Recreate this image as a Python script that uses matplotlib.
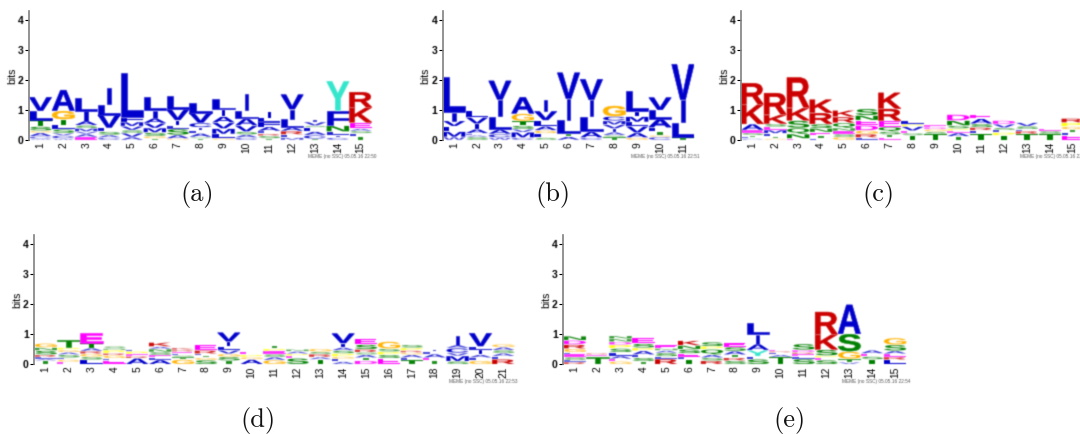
import numpy as np
import matplotlib
matplotlib.use("Agg")
import matplotlib.pyplot as plt
from matplotlib.colors import to_rgb
from matplotlib.font_manager import FontProperties
from matplotlib.patches import PathPatch
from matplotlib.path import Path
from matplotlib.textpath import TextPath

# Each column is listed from the bottom of the stack to the top.
a_letters = ["WCAGSTLV", "WCVSLTGA", "EAVMSAIL", "CASLVLI", "AVSVMFL", "TGSMVAIL", "GASLIVL",
             "TSALICVL", "GLMVAIL", "CASVALI", "TSRLAFLI", "MLRALIV", "TCALSVI", "CILNFY", "TLSAEKR"]
a_heights = [[.04, .08, .12, .07, .14, .22, .30, .46], [.05, .1, .08, .13, .14, .19, .28, .7],
             [.1, .1, .08, .11, .1, .14, .34, .43], [.08, .09, .11, .13, .43, .35, .56],
             [.1, .13, .1, .13, .14, .16, 1.5], [.05, .08, .12, .15, .16, .16, .26, .47],
             [.05, .12, .2, .11, .18, .36, .45], [.05, .05, .12, .1, .1, .15, .33, .33],
             [.06, .14, .18, .2, .2, .23, .37], [.08, .1, .1, .2, .24, .26, .57],
             [.05, .09, .07, .09, .14, .16, .14, .22], [.08, .1, .12, .13, .27, .32, .5],
             [.04, .12, .12, .14, .06, .12, .08], [.08, .08, .12, .2, .5, .98],
             [.12, .1, .08, .08, .2, .5, .52]]

b_letters = ["WMLVIL", "SALAIVL", "WCALIV", "CMVSTGA", "SLGALVI", "ATLIV", "CALIV", "TSAIVMCG",
             "GAVLMIL", "CGTLALV", "TLIV"]
b_heights = [[.1, .18, .18, .18, .28, 1.2], [.1, .06, .06, .14, .18, .22, .23],
             [.08, .12, .16, .43, .55, .64], [.08, .18, .1, .12, .15, .25, .55],
             [.08, .14, .1, .14, .2, .3, .4], [.11, .1, .46, .7, .88], [.08, .2, .5, .55, .7],
             [.1, .06, .1, .12, .13, .13, .15, .35], [.08, .16, .22, .14, .18, .18, .68],
             [.1, .06, .12, .14, .28, .3, .42], [.1, .48, .75, 1.2]]

c_letters = ["CLTSEAKR", "GTLMESKR", "ENQSKR", "LTENSRK", "GSENQRK", "LRGDENS", "ETSQERK", "TSEVPL",
             "TSGDE", "TAEPSND", "TLRSAE", "TPLSVD", "TRLSV", "TSE", "ELTGPR"]
c_heights = [[.05, .05, .06, .08, .09, .2, .65, .72], [.05, .07, .1, .12, .1, .1, .3, .73],
             [.05, .15, .2, .25, .42, 1.02], [.06, .1, .1, .13, .14, .37, .45],
             [.1, .1, .1, .1, .17, .2, .22], [.08, .12, .12, .17, .17, .16, .22],
             [.08, .1, .1, .16, .2, .4, .54], [.15, .08, .08, .14, .08, .13],
             [.2, .08, .08, .07, .07], [.12, .12, .07, .07, .1, .17, .2],
             [.22, .1, .1, .12, .17, .14], [.15, .1, .08, .08, .12, .12],
             [.2, .1, .06, .1, .12], [.2, .1, .07], [.15, .1, .1, .1, .13, .14]]

d_letters = ["TALRSNG", "EGLSAGPT", "LSGRATE", "ELGRPNS", "AREPL", "ALESNAK", "GTSLERK", "SGTLRE",
             "TSGVLIV", "AGPE", "GASEPT", "SEPAN", "TARSG", "ALGPSAIV", "DTASRSE", "ESPSG",
             "TLAGRPS", "TEALI", "SMVCAI", "GLAILV", "RLASAG"]
d_heights = [[.12, .06, .06, .08, .14, .1, .14], [.08, .08, .06, .1, .08, .08, .08, .26],
             [.15, .1, .1, .09, .1, .17, .33], [.13, .07, .1, .07, .1, .05, .08],
             [.2, .07, .07, .09, .07], [.15, .08, .08, .1, .1, .08, .14],
             [.16, .08, .06, .06, .06, .06, .07], [.14, .08, .07, .06, .12, .18],
             [.12, .13, .1, .12, .13, .16, .3], [.16, .08, .08, .1], [.14, .1, .1, .1, .08, .1],
             [.2, .08, .07, .08, .07], [.16, .08, .1, .08, .1], [.09, .09, .08, .1, .1, .1, .14, .33],
             [.12, .1, .1, .08, .1, .16, .2], [.2, .12, .1, .1, .24],
             [.14, .08, .1, .07, .07, .09, .1], [.12, .1, .12, .08, .08],
             [.1, .18, .1, .16, .1, .3], [.12, .1, .1, .16, .12, .44],
             [.17, .1, .1, .1, .1, .1]]

e_letters = ["RLSELGRDN", "TER", "GEALSPDNN", "TSLAPSE", "RLSANE", "TLESNK", "RSAQPS", "SRTASE",
             "SLYAIL", "TALRE", "SLERDS", "SEPSKR", "VTGSA", "TSEA", "LREASG"]
e_heights = [[.08, .06, .1, .1, .06, .12, .14, .14, .14], [.27, .05, .05],
             [.1, .08, .1, .12, .13, .12, .1, .1, .1], [.1, .12, .1, .13, .1, .14, .2],
             [.18, .08, .12, .08, .07, .12], [.16, .08, .12, .14, .13, .16],
             [.12, .1, .1, .18, .1, .14], [.12, .1, .1, .12, .14, .14],
             [.17, .1, .2, .2, .32, .41], [.24, .08, .07, .05, .06],
             [.18, .08, .08, .06, .08, .2], [.14, .08, .07, .2, .5, .76],
             [.07, .11, .25, .58, .98], [.16, .1, .1, .11], [.15, .1, .1, .1, .2, .23]]

panel_labels = ["(a)", "(b)", "(c)", "(d)", "(e)"]
footers = ["MEME (no SSC) 05.05.16 22:50", "MEME (no SSC) 05.05.16 22:51", "MEME (no SSC) 05.05.16 22",
           "MEME (no SSC) 05.05.16 22:53", "MEME (no SSC) 05.05.16 22:54"]

BLUE, GREEN, MAGENTA, RED, ORANGE, TURQ, YELLOW = ("#0000CC", "#008000", "#FF00FF", "#CC0000",
                                                    "#FFB300", "#33E6CC", "#FFFF00")
colours = {**dict.fromkeys("ACFILMVW", BLUE), **dict.fromkeys("NQST", GREEN), **dict.fromkeys("DE", MAGENTA),
           **dict.fromkeys("KR", RED), "G": ORANGE, "Y": TURQ, "H": TURQ, "P": YELLOW}

W, H = 1080, 434
fig = plt.figure(figsize=(W / 100, H / 100), dpi=100)
bold = FontProperties(family="Liberation Sans", weight="bold")
glyphs = {c: TextPath((0, 0), c, size=1, prop=bold) for c in "ACDEFGHIKLMNPQRSTVWY"}
LETTER_BLUR = np.array([.2, .6, .2])
TEXT_BLUR = np.array([.15, .7, .15])


def soften(colour, kernel):
    """Blur only the coverage of an artist, as the downscaled bitmap reference does."""
    rgb = to_rgb(colour)

    def apply(img, dpi):
        pad = len(kernel)
        alpha = np.pad(img[:, :, 3], pad)
        alpha = np.apply_along_axis(np.convolve, 0, alpha, kernel, "same")
        alpha = np.apply_along_axis(np.convolve, 1, alpha, kernel, "same")
        out = np.zeros(alpha.shape + (4,))
        out[:, :, :3] = rgb
        out[:, :, 3] = alpha
        return out, -pad, -pad
    return apply


def draw_letter(ax, letter, xc, y0, h):
    g = glyphs[letter]
    ext = g.get_extents()
    width = 0.15 if letter == "I" else 0.98
    shown = h - 0.02  # a hairline of white between stacked letters
    xs = (g.vertices[:, 0] - ext.x0) / ext.width * width + xc - width / 2
    ys = (g.vertices[:, 1] - ext.y0) / ext.height * shown + y0 + 0.01
    verts = list(zip(xs, ys))
    strength = min(1.0, 0.4 + 4 * h)  # thin letters wash out in the reference's downscaling
    big = h > 0.25
    patch = PathPatch(Path(verts, g.codes), fc=colours[letter], ec=colours[letter] if big else "none",
                      lw=0.4 if big else 0, alpha=strength)
    patch.set_agg_filter(soften(colours[letter], LETTER_BLUR))
    ax.add_patch(patch)


def panel(left, y0_px, letters, heights, label, label_xy, footer, foot_xy):
    n = len(letters)
    spacing = 22.88
    ax = fig.add_axes([left / W, 1 - y0_px / H, n * spacing / W, 4.3 * 30 / H])
    ax.set_xlim(0.5, n + 0.5)
    ax.set_ylim(0, 4.3)
    for i, (ls, hs) in enumerate(zip(letters, heights), start=1):
        bottom = 0.0
        for c, v in zip(ls, hs):
            draw_letter(ax, c, i, bottom, v)
            bottom += v
    for s in ("top", "right", "bottom"):
        ax.spines[s].set_visible(False)
    ax.spines["left"].set_color("#808080")
    ax.spines["left"].set_linewidth(1.2)
    ax.set_yticks([0, 1, 2, 3, 4])
    ax.set_xticks(range(1, n + 1))
    ax.set_xticklabels([str(i) for i in range(1, n + 1)], rotation=90, fontsize=7.4,
                       family="Liberation Sans")
    ax.set_yticklabels(["0", "1", "2", "3", "4"], fontsize=7.5, family="Liberation Sans", weight="bold")
    ax.tick_params(axis="x", length=0, pad=1.5)
    ax.tick_params(axis="y", length=3, width=0.8, pad=1)
    ax.set_ylabel("bits", fontsize=7.6, family="Liberation Sans")
    ax.yaxis.set_label_coords(-12 / (n * spacing), 0.5)
    for t in ax.get_xticklabels() + ax.get_yticklabels() + [ax.yaxis.label]:
        t.set_agg_filter(soften("black", TEXT_BLUR))
    fig.text(label_xy[0] / W, 1 - label_xy[1] / H, label, fontsize=19, family="cmr10",
             ha="center", va="center", color="#111111")
    foot = fig.text(foot_xy[0] / W, 1 - foot_xy[1] / H, footer, fontsize=3.4, family="Liberation Sans",
                    ha="left", va="center", color="#555555")
    foot.set_agg_filter(soften("#555555", TEXT_BLUR))


panel(29, 140, a_letters, a_heights, panel_labels[0], (197, 195), footers[0], (308, 157))
panel(442.7, 140, b_letters, b_heights, panel_labels[1], (553, 195), footers[1], (631, 157))
panel(741, 140, c_letters, c_heights, panel_labels[2], (878, 195), footers[2], (1020, 157))
panel(34.3, 364.3, d_letters, d_heights, panel_labels[3], (258, 420), footers[3], (449, 382))
panel(563.3, 364.3, e_letters, e_heights, panel_labels[4], (790, 420), footers[4], (842, 382))

fig.savefig("out.png", dpi=100)
